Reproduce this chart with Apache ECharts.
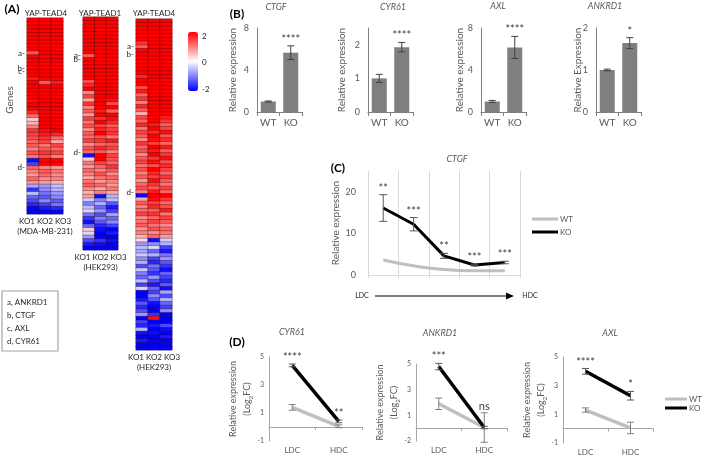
<!DOCTYPE html>
<html>
<head>
<meta charset="utf-8">
<script src="https://cdn.jsdelivr.net/npm/echarts@6/dist/echarts.min.js"></script>
<style>
  html, body { margin: 0; padding: 0; background: #fff; }
  #chart { width: 709px; height: 456px; }
</style>
</head>
<body>
<div id="chart"></div>
<script>
// ---- data ----
const koLabels = ['KO1', 'KO2', 'KO3'];
const heatTitles = ['YAP-TEAD4', 'YAP-TEAD1', 'YAP-TEAD4'];
const heatCells = ['(MDA-MB-231)', '(HEK293)', '(HEK293)'];
const geneKey = ['a, ANKRD1', 'b, CTGF', 'c, AXL', 'd, CYR61'];

// rows top to bottom, values KO1, KO2, KO3 (log2 scale, -2..2)
const heat1 = [
  [2,2,2],[2,2,2],[2,2,2],[2,2,2],[2,2,2],[2,2,2],[2,2,2],[2,2,2],[2,2,2],[1.3,2,2],
  [2,2,2],[2,2,2],[2,2,2],[2,2,2],[2,2,2],[2,2,2],[1.8,2,2],[2,1.3,1.8],[2,2,2],[2,2,2],
  [2,2,2],[2,2,2],[1.9,2,2],[2,2,2],[2,2,2],[1.7,2,2],[1.2,2,2],[0.4,2,2],[0.6,2,2],[1.0,2,2],
  [1.6,1.9,2],[1.5,1.8,1.7],[1.4,1.6,1.2],[1.2,1.5,0.7],[1.3,1.1,1.5],[1.0,1.3,1.2],[1.4,1.6,1.5],[1.1,1.4,1.0],[-1.9,2,2],[-1.5,2,2],
  [1.2,1.0,0.8],[1.0,1.3,1.1],[0.8,1.2,0.9],[1.2,0.9,1.0],[0.9,0.8,0.6],[-0.7,-0.8,-0.5],[-1.6,-0.9,-0.6],[-0.5,-1.1,-0.8],[-1.2,-1.3,-0.9],[-1.4,-0.9,-1.3],
  [-1.7,-1.5,-1.1],[-2,-1.8,-1.7],[-2,-2,-2]
];
const heat2 = [
  [2,2,2],[2,2,2],[2,2,2],[2,2,2],[2,2,2],[2,2,2],[2,2,2],[2,2,2],[2,2,2],[2,2,2],
  [1.3,2,2],[2,2,2],[2,2,2],[2,2,2],[2,2,2],[2,2,2],[2,2,2],[1.4,2,2],[1.7,2,2],[2,2,2],
  [0.9,2,2],[1.5,2,2],[0.7,2,1.9],[1.6,2,1.4],[1.0,2,2],[1.3,1.8,1.2],[0.8,2,2],[1.5,1.6,1.9],[1.1,2,1.7],[1.4,1.5,1.3],
  [0.9,1.7,1.5],[1.3,2,1.6],[1.2,1.4,1.1],[1.5,1.6,1.8],[0.9,1.2,1.3],[1.4,1.7,1.5],[1.2,1.3,1.0],[-1.9,2,1.5],[0.4,2,1.4],[1.1,1.5,1.2],
  [0.8,1.2,1.6],[1.2,1.0,1.3],[1.0,1.4,0.9],[0.7,1.1,1.2],[1.1,0.8,1.0],[1.3,1.2,0.8],[0.9,0.7,1.1],[0.6,1.0,0.7],[0.8,-1.9,-0.6],[-0.4,-1.0,-0.5],
  [-1.0,-0.6,-1.3],[-0.5,-1.2,-1.8],[-0.3,-0.8,-1.5],[-1.1,-1.4,-0.7],[-1.6,-1.0,-1.2],[-1.9,-1.3,-0.9],[-1.2,-1.7,-1.5],[0.4,-1.9,-2],[-0.3,-2,-1.8],[-0.8,-2,-2],
  [-1.4,-1.6,-1.9],[-1.8,-1.9,-2],[-2,-2,-2]
];
const heat3 = [
  [2,2,2],[2,2,2],[2,2,2],[2,2,2],[2,2,2],[2,2,2],[1.6,2,2],[1.3,2,2],[2,2,2],[2,2,2],
  [2,2,2],[2,2,2],[2,2,2],[2,2,2],[2,2,2],[1.7,2,2],[2,2,2],[2,2,2],[1.4,2,2],[1.8,2,2],
  [1.2,2,2],[1.6,2,2],[1.0,2,2],[1.7,2,2],[1.3,2,2],[0.6,2,2],[1.5,2,1.8],[1.2,2,1.6],[1.7,1.8,1.3],[1.1,2,1.5],
  [1.5,1.7,1.9],[1.3,2,1.4],[0.9,1.9,1.7],[1.6,1.5,1.2],[1.2,2,1.8],[1.4,1.8,1.3],[0.9,2,1.6],[1.3,1.6,1.9],[1.5,1.9,1.4],[1.1,1.4,1.7],
  [1.4,2,1.5],[1.0,1.7,1.2],[1.3,1.5,1.6],[0.8,1.9,1.3],[1.2,1.6,1.1],[1.4,1.3,1.5],[1.0,1.8,1.2],[-2,2,2],[0.7,1.9,1.6],[1.3,1.5,1.2],
  [1.0,1.7,1.4],[1.2,1.3,1.8],[1.5,1.6,1.1],[0.9,1.2,1.5],[1.1,1.5,1.3],[1.3,1.1,0.9],[0.8,1.4,1.2],[1.0,0.9,1.1],[0.6,1.2,0.8],[0.3,-1.9,-0.4],
  [-0.8,-0.9,-0.6],[-0.5,-0.3,-1.5],[-0.7,-1.2,-1.8],[-0.4,-0.6,-1.1],[-0.9,-1.5,-0.8],[-0.6,-1.7,-1.3],[-1.4,-1.1,-1.6],[-0.4,-1.3,-1.9],[-1.0,-1.6,-1.2],[-1.2,-0.8,-1.5],
  [-0.5,-1.4,-1.7],[-1.5,-1.8,-1.3],[-0.3,-1.2,-1.9],[-2,-1.5,-0.7],[-2,-0.9,-1.4],[-1.8,-1.3,-0.6],[-1.3,-1.9,-1.2],[-1.7,-2,-1.5],[-1.4,-2,-0.9],[-0.8,-1.6,-2],
  [-2,1.9,-2],[-1.5,-2,-2],[-1.7,-1.8,-1.4],[-0.6,-2,-1.9],[-1.9,-1.9,-2],[-2,-2,-1.8],[-1.8,-2,-2],[-2,-2,-2],[-2,-2,-2]
];
// row index -> gene letter
const heatMarks = [
  { 9: 'a', 13: 'b', 14: 'c', 40: 'd' },
  { 10: 'a', 11: 'b', 36: 'd' },
  { 7: 'a', 9: 'b', 46: 'd' }
];

// (B) qPCR bars
const barCats = ['WT', 'KO'];
const barGenes = ['CTGF', 'CYR61', 'AXL', 'ANKRD1'];
const barValues = [[1.0, 5.65], [1.0, 1.93], [1.0, 6.15], [1.0, 1.64]];
const barErrors = [[0.05, 0.65], [0.12, 0.14], [0.1, 1.05], [0.02, 0.13]];
const barStars = [['', '****'], ['', '****'], ['', '****'], ['', '*']];
const barYNames = ['Relative expression', 'Relative expression', 'Relative expression', 'Relative Expression'];
const barMax = [8, 2.5, 8, 2];
const barStep = [4, 1, 4, 1];

// (C) CTGF along density
const densitySteps = ['1', '2', '3', '4', '5'];
const ctgfKO = [16.1, 12.2, 4.6, 2.4, 3.0];
const ctgfKOErr = [3.2, 1.6, 0.6, 0.2, 0.3];
const ctgfWT = [3.6, 2.2, 1.3, 1.0, 1.0];
const ctgfStars = ['**', '***', '**', '***', '***'];

// (D) LDC vs HDC, log2FC
const dCats = ['LDC', 'HDC'];
const dGenes = ['CYR61', 'ANKRD1', 'AXL'];
const dKO = [[4.4, 0.4], [4.8, 0.05], [4.0, 2.3]];
const dKOErr = [[0.1, 0.1], [0.25, 0.1], [0.2, 0.3]];
const dWT = [[1.4, 0.05], [1.9, 0.05], [1.3, 0.05]];
const dWTErr = [[0.2, 0.1], [0.45, 1.15], [0.15, 0.4]];
const dStars = [['****', '**'], ['***', 'ns'], ['****', '*']];
const dTickVals = [-1, 1, 3, 5];
const dTickText = [['-1', '1', '3', '5'], ['-2', '1', '3', '5'], ['-1', '1', '3', '5']];

// ---- chart ----
const FONT = 'Lato';
const GRAY = '#595959';
const DARK = '#262626';
const chart = echarts.init(document.getElementById('chart'));

const grid = [];
const xAxis = [];
const yAxis = [];
const series = [];

const addGrid = (box) => {
  grid.push(Object.assign({ outerBoundsMode: 'none' }, box));
  return grid.length - 1;
};
const noLine = { show: false };

// I-beam error bars drawn through the axes
const errorBars = (idx, values, errors, color, cap) => ({
  type: 'custom', xAxisIndex: idx, yAxisIndex: idx, z: 6, silent: true,
  data: values.map((v, k) => [k, v, errors[k]]),
  renderItem: (params, api) => {
    const x = api.value(0), v = api.value(1), e = api.value(2);
    const hi = api.coord([x, v + e]);
    const lo = api.coord([x, v - e]);
    const st = { stroke: color, lineWidth: 1 };
    return {
      type: 'group',
      children: [
        { type: 'line', shape: { x1: hi[0], y1: hi[1], x2: lo[0], y2: lo[1] }, style: st },
        { type: 'line', shape: { x1: hi[0] - cap, y1: hi[1], x2: hi[0] + cap, y2: hi[1] }, style: st },
        { type: 'line', shape: { x1: lo[0] - cap, y1: lo[1], x2: lo[0] + cap, y2: lo[1] }, style: st }
      ]
    };
  }
});

// significance marks sitting above the top of each error bar
const starMarks = (idx, labels, tops, size) => ({
  type: 'custom', xAxisIndex: idx, yAxisIndex: idx, z: 7, silent: true,
  data: tops.map((t, k) => [k, t]),
  renderItem: (params, api) => {
    const p = api.coord([api.value(0), api.value(1)]);
    return {
      type: 'text', x: p[0], y: p[1] - 1,
      style: { text: labels[params.dataIndex], fill: '#404040', font: `${size}px ${FONT}`, align: 'center', verticalAlign: 'bottom' }
    };
  }
});

// (A) heatmaps
const heatBoxes = [
  { left: 27, top: 18, width: 36, height: 196 },
  { left: 83, top: 17, width: 35, height: 233 },
  { left: 136, top: 19, width: 36, height: 331 }
];
[heat1, heat2, heat3].forEach((rows, i) => {
  const g = addGrid(heatBoxes[i]);
  xAxis.push({
    gridIndex: g, type: 'category', data: koLabels,
    axisLine: noLine, axisTick: noLine, axisLabel: noLine, splitLine: noLine,
    name: koLabels.join(' ') + '\n' + heatCells[i], nameLocation: 'middle', nameGap: 2,
    nameTextStyle: { fontSize: 8, lineHeight: 10, color: DARK, fontFamily: FONT }
  });
  yAxis.push({
    gridIndex: g, type: 'category', inverse: true, data: rows.map((r, k) => String(k)),
    axisLine: noLine, axisTick: noLine, splitLine: noLine,
    axisLabel: {
      interval: 0, fontSize: 8, margin: 2, color: DARK, fontFamily: FONT,
      formatter: (v, k) => (heatMarks[i][k] ? heatMarks[i][k] + '-' : '')
    }
  });
  series.push({
    type: 'heatmap', xAxisIndex: g, yAxisIndex: g, progressive: 0,
    data: rows.flatMap((r, y) => r.map((v, x) => [x, y, v])),
    itemStyle: { borderColor: 'rgba(40,0,0,0.5)', borderWidth: 0.6 },
    emphasis: { disabled: true }
  });
});

// colour key labels
const cb = addGrid({ left: 188, top: 36, width: 10, height: 53 });
xAxis.push({ gridIndex: cb, type: 'value', show: false });
yAxis.push({
  gridIndex: cb, type: 'value', min: -2, max: 2, interval: 2, position: 'right',
  axisLine: noLine, axisTick: noLine, splitLine: noLine,
  axisLabel: { fontSize: 8, margin: 4, color: DARK, fontFamily: FONT }
});

// (B) bar charts
const barLeft = [257, 368, 481, 596];
const barNameGap = [19, 21, 16, 13];
barGenes.forEach((gene, i) => {
  const g = addGrid({ left: barLeft[i], top: 28, width: 45, height: 84 });
  xAxis.push({
    gridIndex: g, type: 'category', data: barCats,
    axisLine: { lineStyle: { color: '#7f7f7f', width: 1 } },
    axisTick: { show: true, length: 4, lineStyle: { color: '#7f7f7f' } },
    axisLabel: { fontSize: 10, margin: 6, color: GRAY, fontFamily: FONT }
  });
  yAxis.push({
    gridIndex: g, type: 'value', min: 0, max: barMax[i], interval: barStep[i],
    name: barYNames[i], nameLocation: 'middle', nameGap: barNameGap[i], nameMoveOverlap: false,
    nameTextStyle: { fontSize: 10, color: GRAY, fontFamily: FONT },
    axisLine: { show: true, lineStyle: { color: '#7f7f7f', width: 1 } },
    axisTick: noLine, splitLine: noLine,
    axisLabel: { fontSize: 9, margin: 8, color: GRAY, fontFamily: FONT, showMaxLabel: barMax[i] % barStep[i] === 0 }
  });
  series.push({
    type: 'bar', name: gene, xAxisIndex: g, yAxisIndex: g, barWidth: 15,
    data: barValues[i], itemStyle: { color: '#7f7f7f' }, silent: true
  });
  series.push(errorBars(g, barValues[i], barErrors[i], '#404040', 3.5));
  series.push(starMarks(g, barStars[i], barValues[i].map((v, k) => v + barErrors[i][k]), 11));
});

// (C) density line chart
const gc = addGrid({ left: 368, top: 171, width: 152, height: 104 });
xAxis.push({
  gridIndex: gc, type: 'category', data: densitySteps,
  axisLine: { lineStyle: { color: '#d9d9d9' } },
  axisTick: { show: true, length: 3, lineStyle: { color: '#d9d9d9' } },
  axisLabel: noLine,
  splitLine: { show: true, lineStyle: { color: '#d9d9d9', width: 1 } }
});
yAxis.push({
  gridIndex: gc, type: 'value', min: 0, max: 25, interval: 10,
  name: 'Relative expression', nameLocation: 'middle', nameGap: 27, nameMoveOverlap: false,
  nameTextStyle: { fontSize: 10, color: GRAY, fontFamily: FONT },
  axisLine: noLine, axisTick: noLine, splitLine: noLine,
  axisLabel: { fontSize: 9, margin: 12, color: GRAY, fontFamily: FONT, showMaxLabel: false }
});
series.push({
  type: 'line', name: 'WT', xAxisIndex: gc, yAxisIndex: gc, data: ctgfWT, smooth: true,
  showSymbol: false, color: '#bfbfbf', lineStyle: { width: 3 }, silent: true
});
series.push({
  type: 'line', name: 'KO', xAxisIndex: gc, yAxisIndex: gc, data: ctgfKO,
  showSymbol: false, color: '#000000', lineStyle: { width: 3 }, z: 4, silent: true
});
series.push(errorBars(gc, ctgfKO, ctgfKOErr, '#595959', 4));
series.push(starMarks(gc, ctgfStars, ctgfKO.map((v, k) => v + ctgfKOErr[k]), 11));

// (D) LDC vs HDC
const dBoxes = [
  { left: 269, top: 357, width: 93, height: 84 },
  { left: 416, top: 364, width: 91, height: 77 },
  { left: 563, top: 357, width: 90, height: 86 }
];
const dNameGap = [15, 15, 15];
const zeroAxes = [];
dGenes.forEach((gene, i) => {
  const g = addGrid(dBoxes[i]);
  xAxis.push({
    gridIndex: g, type: 'category', data: dCats,
    axisLine: { show: false, onZero: false }, axisTick: noLine,
    axisLabel: { fontSize: 8, margin: 5, color: GRAY, fontFamily: FONT }
  });
  zeroAxes.push({
    gridIndex: g, type: 'category', data: dCats, position: 'bottom',
    axisLine: { show: true, onZero: true, lineStyle: { color: '#a6a6a6', width: 1 } },
    axisTick: { show: true, length: 3, lineStyle: { color: '#a6a6a6' } },
    axisLabel: noLine
  });
  yAxis.push({
    gridIndex: g, type: 'value', min: -1, max: 5, interval: 2,
    name: 'Relative expression\n(Log{sub|2}FC)', nameLocation: 'middle', nameGap: dNameGap[i],
    nameMoveOverlap: false,
    nameTextStyle: {
      fontSize: 9, lineHeight: 14, color: GRAY, fontFamily: FONT,
      rich: { sub: { fontSize: 6, lineHeight: 14, verticalAlign: 'bottom', color: GRAY, fontFamily: FONT } }
    },
    axisLine: { show: true, lineStyle: { color: '#a6a6a6', width: 1 } },
    axisTick: noLine, splitLine: noLine,
    axisLabel: {
      fontSize: 7, margin: 5, color: GRAY, fontFamily: FONT,
      formatter: (v) => dTickText[i][dTickVals.indexOf(v)] ?? String(v)
    }
  });
  series.push({
    type: 'line', name: 'WT', xAxisIndex: g, yAxisIndex: g, data: dWT[i],
    showSymbol: false, color: '#bfbfbf', lineStyle: { width: 3.5 }, silent: true
  });
  series.push({
    type: 'line', name: 'KO', xAxisIndex: g, yAxisIndex: g, data: dKO[i],
    showSymbol: false, color: '#000000', lineStyle: { width: 3.5 }, z: 4, silent: true
  });
  series.push(errorBars(g, dWT[i], dWTErr[i], '#7f7f7f', 3.5));
  series.push(errorBars(g, dKO[i], dKOErr[i], '#595959', 3.5));
  const tops = dCats.map((c, k) => Math.max(dKO[i][k] + dKOErr[i][k], dWT[i][k] + dWTErr[i][k]));
  series.push(starMarks(g, dStars[i], tops, 11));
});
zeroAxes.forEach((a) => xAxis.push(a));

// ---- free text, keys and arrow ----
const txt = (text, x, y, o = {}) => ({
  type: 'text', x, y, rotation: o.rotation || 0, silent: true,
  style: {
    text, fill: o.color || GRAY,
    font: `${o.italic ? 'italic ' : ''}${o.bold ? 'bold ' : ''}${o.size || 9}px ${FONT}`,
    align: o.align || 'center', verticalAlign: 'middle'
  }
});
const panelLabels = ['(A)', '(B)', '(C)', '(D)'];
const panelPos = [[12, 9], [237, 14], [338, 168], [237, 342]];
const heatTitlePos = [[46, 13], [100, 13], [154, 13]];
const barTitlePos = [[276, 7], [393, 7], [498, 6], [605, 6]];
const dTitlePos = [[292, 332], [440, 333], [610, 333]];

const graphic = [];
panelLabels.forEach((t, i) => graphic.push(txt(t, panelPos[i][0], panelPos[i][1], { bold: true, size: 12, color: '#000' })));
heatTitles.forEach((t, i) => graphic.push(txt(t, heatTitlePos[i][0], heatTitlePos[i][1], { size: 8, color: DARK })));
barGenes.forEach((t, i) => graphic.push(txt(t, barTitlePos[i][0], barTitlePos[i][1], { italic: true, size: 9 })));
graphic.push(txt('CTGF', 457, 159, { italic: true, size: 9 }));
dGenes.forEach((t, i) => graphic.push(txt(t, dTitlePos[i][0], dTitlePos[i][1], { italic: true, size: 9 })));
graphic.push(txt('Genes', 10, 100, { rotation: Math.PI / 2, size: 10 }));

graphic.push({
  type: 'rect', shape: { x: 2, y: 291, width: 56, height: 60 }, silent: true,
  style: { fill: 'none', stroke: '#a6a6a6', lineWidth: 1.2 }
});
geneKey.forEach((t, i) => graphic.push(txt(t, 7, 302 + 13 * i, { size: 8, color: DARK, align: 'left' })));

graphic.push({ type: 'line', shape: { x1: 375, y1: 296, x2: 508, y2: 296 }, silent: true, style: { stroke: '#000', lineWidth: 1.2 } });
graphic.push({ type: 'polygon', shape: { points: [[506, 292.5], [514, 296], [506, 299.5]] }, silent: true, style: { fill: '#000' } });
graphic.push(txt('LDC', 362, 296, { size: 7, color: DARK }));
graphic.push(txt('HDC', 530, 296, { size: 7, color: DARK }));

const legendBase = {
  data: ['WT', 'KO'], orient: 'vertical', icon: 'rect', padding: 0,
  itemHeight: 3, selectedMode: false,
  textStyle: { fontSize: 8, color: GRAY, fontFamily: FONT, padding: [0, 0, 0, -3] }
};

chart.setOption({
  animation: false,
  textStyle: { fontFamily: FONT },
  grid, xAxis, yAxis, series, graphic,
  legend: [
    Object.assign({}, legendBase, { left: 532, top: 215, itemWidth: 26, itemGap: 5 }),
    Object.assign({}, legendBase, { left: 665, top: 395, itemWidth: 22, itemGap: 1 })
  ],
  visualMap: {
    type: 'continuous', min: -2, max: 2, seriesIndex: [0, 1, 2], calculable: false,
    left: 188, top: 32, itemWidth: 10, itemHeight: 59, padding: 0, hoverLink: false,
    inRange: { color: ['#0000ff', '#ffffff', '#ff0000'] }
  }
});
</script>
</body>
</html>
